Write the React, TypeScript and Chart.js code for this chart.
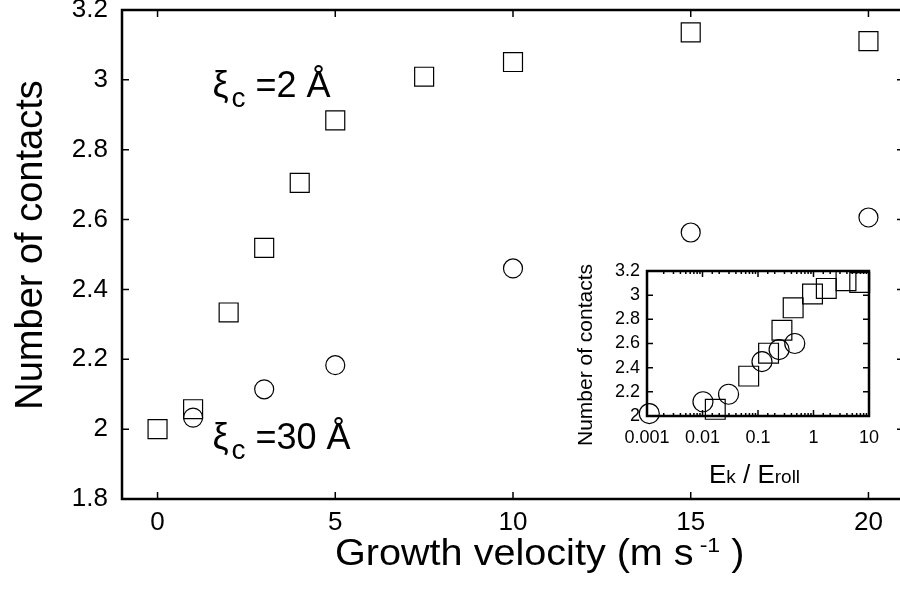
import React, { useEffect, useRef } from "react";
import { Chart, registerables } from "chart.js";

Chart.register(...registerables);

// ---- main panel data (growth velocity vs number of contacts) ----
const velocitySquares = [0, 1, 2, 3, 4, 5, 7.5, 10, 15, 20];
const contactsSquares = [2.0, 2.057, 2.334, 2.519, 2.705, 2.884, 3.009, 3.051, 3.136, 3.111];
const velocityCircles = [1, 3, 5, 10, 15, 20];
const contactsCircles = [2.033, 2.114, 2.183, 2.46, 2.563, 2.606];

const mainXTicks = [0, 5, 10, 15, 20];
const mainYTicks = [1.8, 2.0, 2.2, 2.4, 2.6, 2.8, 3.0, 3.2];

// ---- inset data (Ek / Eroll vs number of contacts) ----
const energySquares = [0.017, 0.068, 0.155, 0.27, 0.43, 0.96, 1.7, 3.85, 6.8];
const insetContactsSquares = [2.055, 2.33, 2.52, 2.71, 2.895, 3.01, 3.056, 3.12, 3.105];
const energyCircles = [0.0011, 0.0102, 0.0295, 0.118, 0.24, 0.46];
const insetContactsCircles = [2.02, 2.118, 2.18, 2.45, 2.55, 2.6];

const insetXMajor = [0.001, 0.01, 0.1, 1, 10];
const insetYTicks = [2.0, 2.2, 2.4, 2.6, 2.8, 3.0, 3.2];

const FONT = "'Liberation Sans', Arial, Helvetica, sans-serif";

type Run = { text: string; size: number; dy?: number; gap?: number };

function drawRuns(ctx: CanvasRenderingContext2D, x: number, y: number, runs: Run[], sx = 1, align: "left" | "center" = "left") {
  ctx.save();
  ctx.textBaseline = "alphabetic";
  ctx.textAlign = "left";
  ctx.fillStyle = "#000";
  let total = 0;
  const widths = runs.map((r) => {
    ctx.font = `${r.size}px ${FONT}`;
    const w = ctx.measureText(r.text).width * sx + (r.gap || 0);
    total += w;
    return w;
  });
  let cx = align === "center" ? x - total / 2 : x;
  runs.forEach((r, i) => {
    ctx.font = `${r.size}px ${FONT}`;
    ctx.save();
    ctx.translate(cx + (r.gap || 0), y + (r.dy || 0));
    ctx.scale(sx, 1);
    ctx.fillText(r.text, 0, 0);
    ctx.restore();
    cx += widths[i];
  });
  ctx.restore();
}

function frameTicksPlugin(frameWidth: number, major: number, minor: number, isMajorX: (v: number) => boolean) {
  return {
    id: "frameTicks",
    afterDraw(chart: any) {
      const { ctx, chartArea: a, scales } = chart;
      const xs = scales.x;
      const ys = scales.y;
      ctx.save();
      ctx.strokeStyle = "#000";
      ctx.lineWidth = 1.5;
      ctx.beginPath();
      xs.ticks.forEach((t: any) => {
        const px = xs.getPixelForValue(t.value);
        const len = isMajorX(t.value) ? major : minor;
        ctx.moveTo(px, a.bottom);
        ctx.lineTo(px, a.bottom - len);
        ctx.moveTo(px, a.top);
        ctx.lineTo(px, a.top + len);
      });
      ys.ticks.forEach((t: any) => {
        const py = ys.getPixelForValue(t.value);
        ctx.moveTo(a.left, py);
        ctx.lineTo(a.left + major, py);
        ctx.moveTo(a.right, py);
        ctx.lineTo(a.right - major, py);
      });
      ctx.stroke();
      ctx.lineWidth = frameWidth;
      ctx.strokeRect(a.left, a.top, a.right - a.left, a.bottom - a.top);
      ctx.restore();
    },
  };
}

const mainTextPlugin = {
  id: "mainText",
  afterDraw(chart: any) {
    const { ctx, scales } = chart;
    // y title
    ctx.save();
    ctx.translate(42, 245);
    ctx.rotate(-Math.PI / 2);
    ctx.font = `38px ${FONT}`;
    ctx.fillStyle = "#000";
    ctx.textAlign = "center";
    ctx.textBaseline = "alphabetic";
    ctx.fillText("Number of contacts", 0, 0);
    ctx.restore();
    // x title with superscript
    drawRuns(ctx, 335, 565, [
      { text: "Growth velocity (m s", size: 36 },
      { text: "-1", size: 21, dy: -13, gap: 6 },
      { text: " )", size: 36 },
    ], 1.1);
    // xi labels
    const labels = [
      { x: 1.6, y: 2.951, value: "2" },
      { x: 1.6, y: 1.943, value: "30" },
    ];
    labels.forEach((l) => {
      const px = scales.x.getPixelForValue(l.x);
      const py = scales.y.getPixelForValue(l.y);
      drawRuns(ctx, px - 2, py, [
        { text: "ξ", size: 36 },
        { text: "c", size: 28, dy: 10, gap: 3 },
        { text: ` =${l.value} Å`, size: 36 },
      ]);
    });
  },
};

const insetTextPlugin = {
  id: "insetText",
  afterDraw(chart: any) {
    const { ctx } = chart;
    ctx.save();
    ctx.translate(32, 105);
    ctx.rotate(-Math.PI / 2);
    ctx.font = `21px ${FONT}`;
    ctx.fillStyle = "#000";
    ctx.textAlign = "center";
    ctx.textBaseline = "alphabetic";
    ctx.fillText("Number of contacts", 0, 0);
    ctx.restore();
    drawRuns(ctx, 194.5, 233, [
      { text: "E", size: 26 },
      { text: "k", size: 19 },
      { text: " / ", size: 26 },
      { text: "E", size: 26 },
      { text: "roll", size: 19 },
    ], 1, "center");
  },
};

const isInsetMajor = (v: number) => insetXMajor.some((m) => Math.abs(v - m) / m < 1e-6);

const zeroPadX = (h: number) => (s: any) => {
  s.height = h;
  s.paddingLeft = 0;
  s.paddingRight = 0;
  s.paddingTop = 0;
  s.paddingBottom = 0;
};
const zeroPadY = (w: number) => (s: any) => {
  s.width = w;
  s.paddingLeft = 0;
  s.paddingRight = 0;
  s.paddingTop = 0;
  s.paddingBottom = 0;
};

export default function App() {
  const mainRef = useRef<HTMLCanvasElement>(null);
  const insetRef = useRef<HTMLCanvasElement>(null);

  useEffect(() => {
    const marker = {
      borderColor: "#000",
      backgroundColor: "rgba(0,0,0,0)",
      borderWidth: 1.2,
      showLine: false,
      clip: false as any,
    };

    const main = new Chart(mainRef.current!, {
      type: "scatter",
      data: {
        datasets: [
          {
            ...marker,
            data: velocitySquares.map((v, i) => ({ x: v, y: contactsSquares[i] })),
            pointStyle: "rect",
            pointRadius: 13.4,
          },
          {
            ...marker,
            data: velocityCircles.map((v, i) => ({ x: v, y: contactsCircles[i] })),
            pointStyle: "circle",
            pointRadius: 9.5,
          },
        ],
      },
      options: {
        animation: false,
        responsive: false,
        events: [],
        layout: { autoPadding: false, padding: { left: 0, top: 10, right: 6, bottom: 0 } },
        plugins: { legend: { display: false }, tooltip: { enabled: false } },
        scales: {
          x: {
            type: "linear",
            min: -1,
            max: 21,
            afterBuildTicks: (s: any) => {
              s.ticks = mainXTicks.map((v) => ({ value: v }));
            },
            afterFit: zeroPadX(100),
            grid: { display: false, drawTicks: false },
            border: { display: false },
            ticks: {
              padding: 8,
              color: "#000",
              autoSkip: false,
              maxRotation: 0,
              font: { family: FONT, size: 26 },
              callback: (v: any) => String(v),
            },
          },
          y: {
            type: "linear",
            min: 1.8,
            max: 3.2,
            afterBuildTicks: (s: any) => {
              s.ticks = mainYTicks.map((v) => ({ value: v }));
            },
            afterFit: zeroPadY(122),
            grid: { display: false, drawTicks: false },
            border: { display: false },
            ticks: {
              padding: 14,
              color: "#000",
              autoSkip: false,
              font: { family: FONT, size: 26 },
              callback: (v: any) => String(Math.round(Number(v) * 10) / 10),
            },
          },
        },
      },
      plugins: [frameTicksPlugin(2.5, 7, 7, () => true), mainTextPlugin],
    });

    const inset = new Chart(insetRef.current!, {
      type: "scatter",
      data: {
        datasets: [
          {
            ...marker,
            data: energySquares.map((v, i) => ({ x: v, y: insetContactsSquares[i] })),
            pointStyle: "rect",
            pointRadius: 14,
          },
          {
            ...marker,
            data: energyCircles.map((v, i) => ({ x: v, y: insetContactsCircles[i] })),
            pointStyle: "circle",
            pointRadius: 10,
          },
        ],
      },
      options: {
        animation: false,
        responsive: false,
        events: [],
        layout: { autoPadding: false, padding: { left: 0, top: 21, right: 31, bottom: 0 } },
        plugins: { legend: { display: false }, tooltip: { enabled: false } },
        scales: {
          x: {
            type: "logarithmic",
            min: 0.001,
            max: 10,
            afterFit: zeroPadX(84),
            grid: { display: false, drawTicks: false },
            border: { display: false },
            ticks: {
              padding: 11,
              color: "#000",
              autoSkip: false,
              maxRotation: 0,
              font: { family: FONT, size: 18 },
              callback: (v: any) => {
                const m = insetXMajor.find((mm) => Math.abs(Number(v) - mm) / mm < 1e-6);
                return m === undefined ? "" : String(m);
              },
            },
          },
          y: {
            type: "linear",
            min: 2,
            max: 3.2,
            afterBuildTicks: (s: any) => {
              s.ticks = insetYTicks.map((v) => ({ value: v }));
            },
            afterFit: zeroPadY(87),
            grid: { display: false, drawTicks: false },
            border: { display: false },
            ticks: {
              padding: 7,
              color: "#000",
              autoSkip: false,
              font: { family: FONT, size: 18 },
              callback: (v: any) => String(Math.round(Number(v) * 10) / 10),
            },
          },
        },
      },
      plugins: [frameTicksPlugin(2.5, 6, 3, isInsetMajor), insetTextPlugin],
    });

    return () => {
      main.destroy();
      inset.destroy();
    };
  }, []);

  return (
    <div
      style={{
        position: "fixed",
        left: 0,
        top: 0,
        width: 900,
        height: 599,
        overflow: "hidden",
        background: "#fff",
      }}
    >
      <canvas
        ref={mainRef}
        width={910}
        height={599}
        style={{ position: "absolute", left: 0, top: 0, width: 910, height: 599 }}
      />
      <canvas
        ref={insetRef}
        width={340}
        height={250}
        style={{ position: "absolute", left: 560, top: 250, width: 340, height: 250 }}
      />
    </div>
  );
}
